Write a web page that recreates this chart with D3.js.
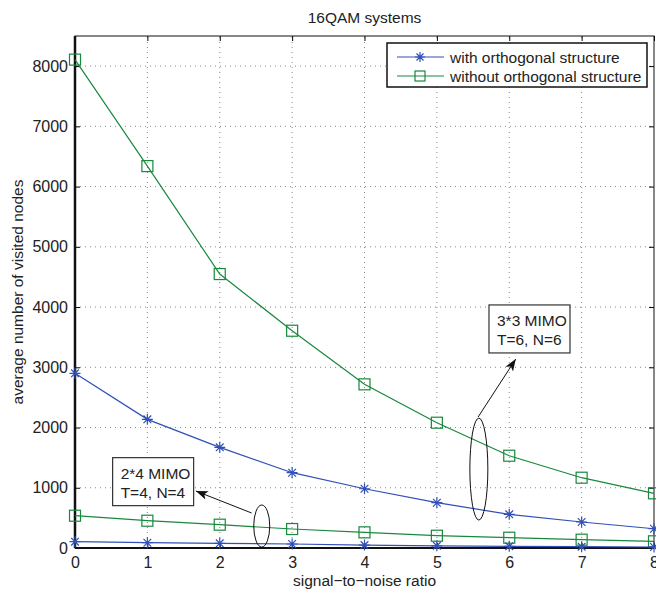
<!DOCTYPE html>
<html>
<head>
<meta charset="utf-8">
<script src="https://cdn.jsdelivr.net/npm/d3@7"></script>
<style>
  body { margin: 0; background: #fff; }
  text { font-family: "Liberation Sans", Arial, sans-serif; fill: #222; }
</style>
</head>
<body>
<div id="chart"></div>
<script>
// data
const snr = [0, 1, 2, 3, 4, 5, 6, 7, 8];
const withOrth33 = [2900, 2136, 1671, 1250, 984, 752, 559, 432, 320];
const withoutOrth33 = [8108, 6340, 4548, 3607, 2717, 2080, 1532, 1167, 908];
const withOrth24 = [105, 88, 78, 66, 48, 36, 28, 22, 17];
const withoutOrth24 = [536, 453, 387, 315, 260, 204, 171, 138, 111];
const xTicks = [0, 1, 2, 3, 4, 5, 6, 7, 8];
const yTicks = [0, 1000, 2000, 3000, 4000, 5000, 6000, 7000, 8000];

const blue = "#3050b6";
const green = "#17893d";

const width = 656, height = 589;
const margin = { top: 36, right: 2, bottom: 41, left: 75 };

const svg = d3.select("#chart").append("svg")
    .attr("width", width)
    .attr("height", height);

const x = d3.scaleLinear().domain([0, 8]).range([margin.left, width - margin.right]);
const y = d3.scaleLinear().domain([0, 8500]).range([height - margin.bottom, margin.top]);

const x0 = x.range()[0], x1 = x.range()[1];
const y0 = y.range()[0], y1 = y.range()[1];

// grid
const grid = svg.append("g").attr("stroke", "#888").attr("stroke-dasharray", "1,4").attr("stroke-width", 1);
grid.selectAll(".gx").data(xTicks.slice(1, -1)).enter().append("line")
    .attr("x1", d => x(d)).attr("x2", d => x(d)).attr("y1", y0).attr("y2", y1);
grid.selectAll(".gy").data(yTicks.slice(1)).enter().append("line")
    .attr("y1", d => y(d)).attr("y2", d => y(d)).attr("x1", x0).attr("x2", x1);

// axes, matlab style (ticks inward)
svg.append("g")
    .attr("transform", `translate(0,${y0})`)
    .call(d3.axisBottom(x).tickValues(xTicks).tickSizeInner(-5).tickSizeOuter(0).tickPadding(9))
    .call(g => g.select(".domain").remove())
    .call(g => g.selectAll("text").attr("font-size", 16));
svg.append("g")
    .attr("transform", `translate(0,${y1})`)
    .call(d3.axisTop(x).tickValues(xTicks).tickSizeInner(-5).tickSizeOuter(0).tickFormat(""))
    .call(g => g.select(".domain").remove());
svg.append("g")
    .attr("transform", `translate(${x0},0)`)
    .call(d3.axisLeft(y).tickValues(yTicks).tickSizeInner(-5).tickSizeOuter(0).tickPadding(7).tickFormat(d3.format("d")))
    .call(g => g.select(".domain").remove())
    .call(g => g.selectAll("text").attr("font-size", 16));
svg.append("g")
    .attr("transform", `translate(${x1},0)`)
    .call(d3.axisRight(y).tickValues(yTicks).tickSizeInner(-5).tickSizeOuter(0).tickFormat(""))
    .call(g => g.select(".domain").remove());

// frame
svg.append("rect")
    .attr("x", x0).attr("y", y1).attr("width", x1 - x0).attr("height", y0 - y1)
    .attr("fill", "none").attr("stroke", "#111").attr("stroke-width", 1);
svg.append("line").attr("x1", x0).attr("x2", x0).attr("y1", y1).attr("y2", y0)
    .attr("stroke", "#111").attr("stroke-width", 2.5);
svg.append("line").attr("x1", x0).attr("x2", x1).attr("y1", y0).attr("y2", y0)
    .attr("stroke", "#111").attr("stroke-width", 2);

// series
const line = d3.line().x(d => x(d[0])).y(d => y(d[1]));
const series = [
    { vals: withoutOrth33, color: green, mark: "square" },
    { vals: withOrth33, color: blue, mark: "star" },
    { vals: withoutOrth24, color: green, mark: "square" },
    { vals: withOrth24, color: blue, mark: "star" }
];

const starPath = r => {
    const a = r * 0.7;
    return `M${-r},0L${r},0M0,${-r}L0,${r}M${-a},${-a}L${a},${a}M${-a},${a}L${a},${-a}`;
};

series.forEach(s => {
    const pts = snr.map((v, i) => [v, s.vals[i]]);
    svg.append("path").datum(pts)
        .attr("d", line).attr("fill", "none")
        .attr("stroke", s.color).attr("stroke-width", 1.2);
    const m = svg.append("g").selectAll("g").data(pts).enter().append("g")
        .attr("transform", d => `translate(${x(d[0])},${y(d[1])})`);
    if (s.mark === "square") {
        m.append("rect").attr("x", -5.5).attr("y", -5.5).attr("width", 11).attr("height", 11)
            .attr("fill", "none").attr("stroke", s.color).attr("stroke-width", 1.2);
    } else {
        m.append("path").attr("d", starPath(5.5)).attr("stroke", s.color).attr("stroke-width", 1.2);
    }
});

// title and labels
svg.append("text").attr("x", (x0 + x1) / 2).attr("y", 23).attr("text-anchor", "middle")
    .attr("font-size", 15.5).text("16QAM systems");
svg.append("text").attr("x", (x0 + x1) / 2).attr("y", 586).attr("text-anchor", "middle")
    .attr("font-size", 15.5).text("signal\u2212to\u2212noise ratio");
svg.append("text")
    .attr("transform", `translate(23,${(y0 + y1) / 2}) rotate(-90)`)
    .attr("text-anchor", "middle").attr("font-size", 15.5)
    .text("average number of visited nodes");

// legend
const leg = svg.append("g").attr("transform", "translate(387,43)");
leg.append("rect").attr("width", 260).attr("height", 44)
    .attr("fill", "#fff").attr("stroke", "#111").attr("stroke-width", 1.5);
const legendItems = [
    { label: "with orthogonal structure", color: blue, mark: "star" },
    { label: "without orthogonal structure", color: green, mark: "square" }
];
legendItems.forEach((d, i) => {
    const g = leg.append("g").attr("transform", `translate(0,${14 + i * 19})`);
    g.append("line").attr("x1", 10).attr("x2", 57).attr("stroke", d.color).attr("stroke-width", 1.2);
    if (d.mark === "square") {
        g.append("rect").attr("x", 28).attr("y", -5).attr("width", 10).attr("height", 10)
            .attr("fill", "none").attr("stroke", d.color).attr("stroke-width", 1.2);
    } else {
        g.append("path").attr("transform", "translate(33,0)").attr("d", starPath(5))
            .attr("stroke", d.color).attr("stroke-width", 1.2);
    }
    g.append("text").attr("x", 63).attr("y", 5.5).attr("font-size", 15.5).text(d.label);
});

// annotations (in data units)
const notes = [
    { lines: ["3*3 MIMO", "T=6, N=6"], box: [5.72, 4035], ell: [5.58, 1310, 9, 51], from: [5.57, 2175], to: [6.09, 3137] },
    { lines: ["2*4 MIMO", "T=4, N=4"], box: [0.52, 1500], ell: [2.58, 365, 8, 21], from: [2.44, 581], to: [1.67, 946] }
];
svg.append("defs").append("marker")
    .attr("id", "arr").attr("viewBox", "0 -5 12 10").attr("refX", 12).attr("refY", 0)
    .attr("markerWidth", 12).attr("markerHeight", 10).attr("markerUnits", "userSpaceOnUse")
    .attr("orient", "auto")
    .append("path").attr("d", "M0,-4.5L12,0L0,4.5L3,0Z").attr("fill", "#111");

notes.forEach(n => {
    svg.append("ellipse")
        .attr("cx", x(n.ell[0])).attr("cy", y(n.ell[1])).attr("rx", n.ell[2]).attr("ry", n.ell[3])
        .attr("fill", "none").attr("stroke", "#111").attr("stroke-width", 1);
    svg.append("line")
        .attr("x1", x(n.from[0])).attr("y1", y(n.from[1])).attr("x2", x(n.to[0])).attr("y2", y(n.to[1]))
        .attr("stroke", "#111").attr("stroke-width", 1).attr("marker-end", "url(#arr)");
    const bx = x(n.box[0]), by = y(n.box[1]);
    svg.append("rect").attr("x", bx).attr("y", by).attr("width", 81).attr("height", 48)
        .attr("fill", "#fff").attr("stroke", "#333").attr("stroke-width", 1.2);
    n.lines.forEach((t, i) => {
        svg.append("text").attr("x", bx + 8).attr("y", by + 21 + i * 19)
            .attr("font-size", 15.5).text(t);
    });
});
</script>
</body>
</html>
